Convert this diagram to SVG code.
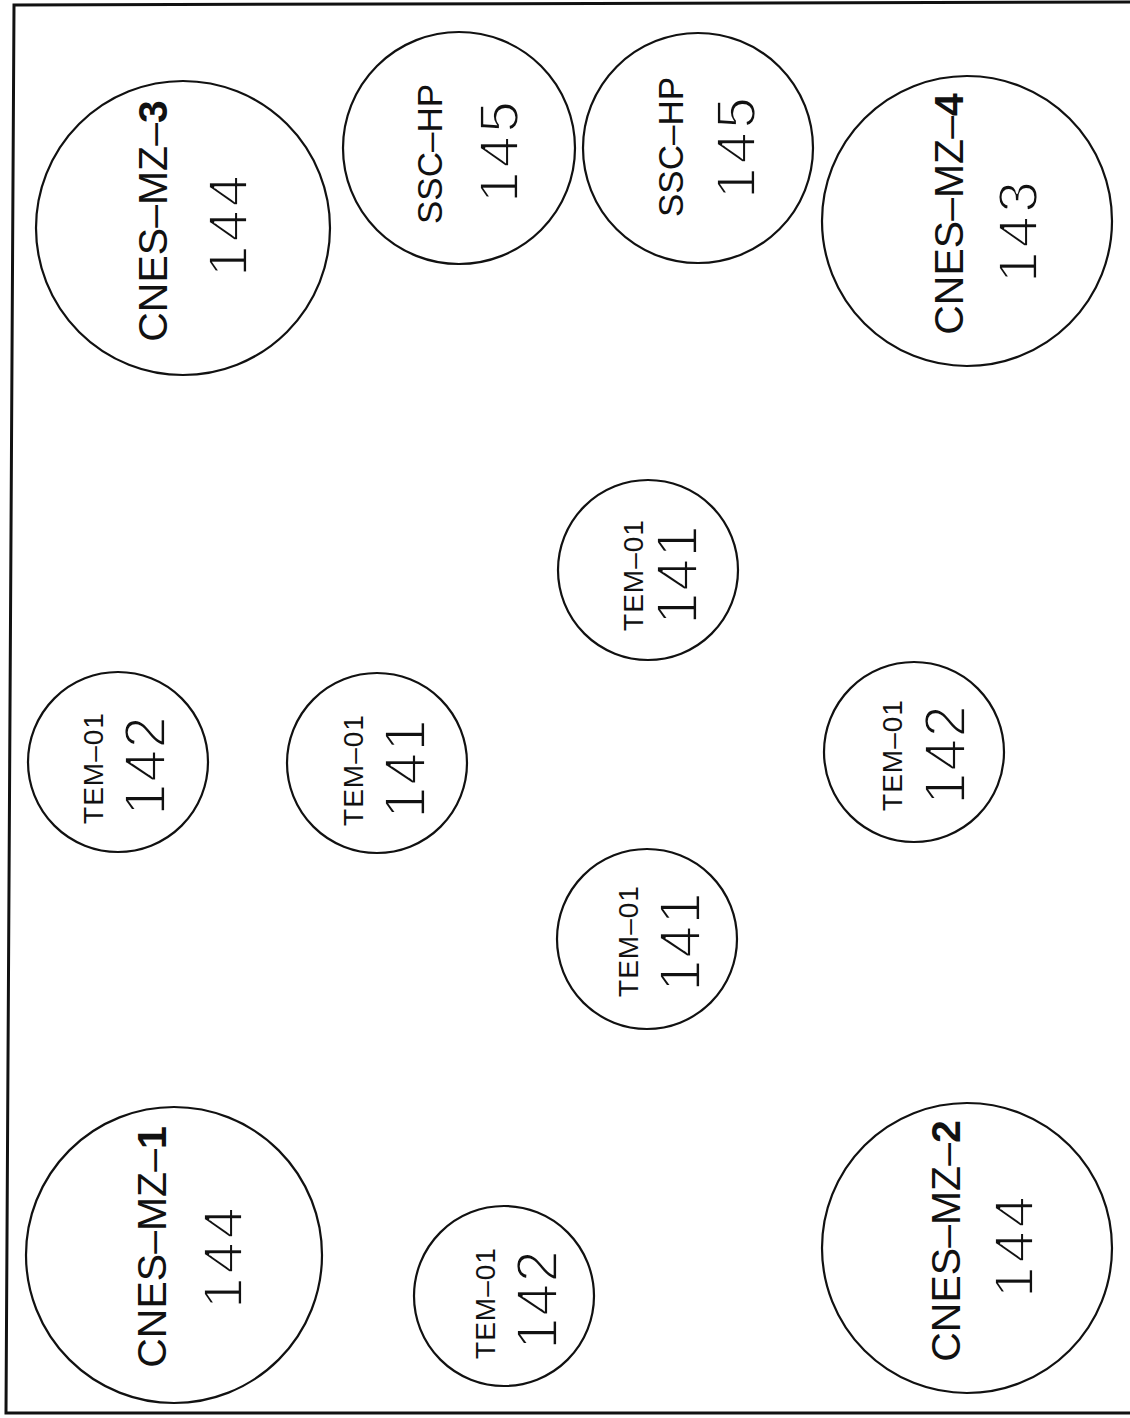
<svg xmlns="http://www.w3.org/2000/svg" width="1130" height="1418" viewBox="0 0 1130 1418">
<style>
.c{fill:none;stroke:#111;stroke-width:2.2}
.frame{fill:none;stroke:#111;stroke-width:3}
text{font-family:"Liberation Sans",Arial,sans-serif;fill:#111;text-anchor:middle}
.lb{font-size:41px}
.ls{font-size:35px}
.lt{font-size:28px;letter-spacing:1px}
.nb{font-size:56px;letter-spacing:4px;stroke:#fff;stroke-width:1.8px}
.nt{font-size:57px;letter-spacing:2px;stroke:#fff;stroke-width:1.8px}
.b{font-weight:bold}
</style>
<rect width="1130" height="1418" fill="#fff"/>
<polyline class="frame" points="1130,2 14,5 6,1413 1130,1413"/>
<g id="connectors"/>
<g id="cnes-mz-3">
<circle class="c" cx="183" cy="228" r="147"/>
<text class="lb" transform="translate(167,221) rotate(-90)">CNES–MZ–<tspan class="b">3</tspan></text>
<text class="nb" transform="translate(247,224) rotate(-90)">144</text>
</g>
<g id="ssc-hp-a">
<circle class="c" cx="459" cy="148" r="116"/>
<text class="ls" transform="translate(442,154) rotate(-90)">SSC–HP</text>
<text class="nb" transform="translate(518,150) rotate(-90)">145</text>
</g>
<g id="ssc-hp-b">
<circle class="c" cx="698" cy="148" r="115"/>
<text class="ls" transform="translate(683,147) rotate(-90)">SSC–HP</text>
<text class="nb" transform="translate(755,146) rotate(-90)">145</text>
</g>
<g id="cnes-mz-4">
<circle class="c" cx="967" cy="221" r="145"/>
<text class="lb" transform="translate(963,214) rotate(-90)">CNES–MZ–<tspan class="b">4</tspan></text>
<text class="nb" transform="translate(1037,230) rotate(-90)">143</text>
</g>
<g id="cnes-mz-1">
<circle class="c" cx="174" cy="1255" r="148"/>
<text class="lb" transform="translate(166,1247) rotate(-90)">CNES–MZ–<tspan class="b">1</tspan></text>
<text class="nb" transform="translate(242,1256) rotate(-90)">144</text>
</g>
<g id="cnes-mz-2">
<circle class="c" cx="967" cy="1248" r="145"/>
<text class="lb" transform="translate(960,1241) rotate(-90)">CNES–MZ–<tspan class="b">2</tspan></text>
<text class="nb" transform="translate(1033,1245) rotate(-90)">144</text>
</g>
<g id="tem-01-142-a">
<circle class="c" cx="118" cy="762" r="90"/>
<text class="lt" transform="translate(103,768) rotate(-90)">TEM–01</text>
<text class="nt" transform="translate(165,765) rotate(-90)">142</text>
</g>
<g id="tem-01-141-a">
<circle class="c" cx="377" cy="763" r="90"/>
<text class="lt" transform="translate(363,770) rotate(-90)">TEM–01</text>
<text class="nt" transform="translate(425,768) rotate(-90)">141</text>
</g>
<g id="tem-01-141-b">
<circle class="c" cx="648" cy="570" r="90"/>
<text class="lt" transform="translate(643,575) rotate(-90)">TEM–01</text>
<text class="nt" transform="translate(697,574) rotate(-90)">141</text>
</g>
<g id="tem-01-141-c">
<circle class="c" cx="647" cy="939" r="90"/>
<text class="lt" transform="translate(638,941) rotate(-90)">TEM–01</text>
<text class="nt" transform="translate(700,941) rotate(-90)">141</text>
</g>
<g id="tem-01-142-b">
<circle class="c" cx="914" cy="752" r="90"/>
<text class="lt" transform="translate(902,755) rotate(-90)">TEM–01</text>
<text class="nt" transform="translate(965,754) rotate(-90)">142</text>
</g>
<g id="tem-01-142-c">
<circle class="c" cx="504" cy="1296" r="90"/>
<text class="lt" transform="translate(495,1303) rotate(-90)">TEM–01</text>
<text class="nt" transform="translate(557,1299) rotate(-90)">142</text>
</g>
</svg>
